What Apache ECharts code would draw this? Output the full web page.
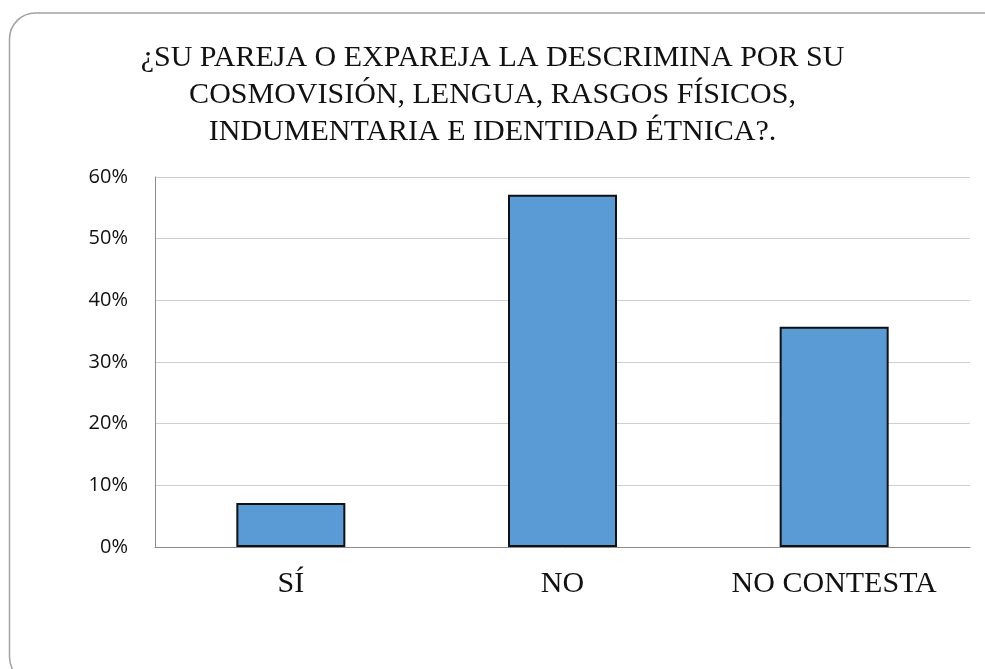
<!DOCTYPE html>
<html>
<head>
<meta charset="utf-8">
<script src="https://cdn.jsdelivr.net/npm/echarts@6/dist/echarts.min.js"></script>
<style>
  html, body { margin: 0; padding: 0; background: #fff; }
  #chart { width: 985px; height: 669px; }
</style>
</head>
<body>
<div id="chart"></div>
<script>
// data
const categories = ['SÍ', 'NO', 'NO CONTESTA'];
const values = [7.14, 57.14, 35.71];
const yTicks = { min: 0, max: 60, interval: 10 };
const titleText = '¿SU PAREJA O EXPAREJA LA DESCRIMINA POR SU\nCOSMOVISIÓN, LENGUA, RASGOS FÍSICOS,\nINDUMENTARIA E IDENTIDAD ÉTNICA?.';

const chart = echarts.init(document.getElementById('chart'));

chart.setOption({
  animation: false,
  backgroundColor: '#fff',
  title: {
    text: titleText,
    left: 'center',
    top: 35,
    textStyle: {
      fontFamily: '"Liberation Serif", serif',
      fontWeight: 'normal',
      fontSize: 30,
      lineHeight: 37,
      color: '#111'
    }
  },
  // rounded slide frame
  graphic: [{
    type: 'rect',
    shape: { x: 9.5, y: 13, width: 1010, height: 670, r: 26 },
    style: { fill: 'none', stroke: '#a3a3a3', lineWidth: 1.5 },
    silent: true
  }],
  grid: { left: 155, right: 15, top: 177, bottom: 122 },
  xAxis: {
    type: 'category',
    data: categories,
    axisLine: { lineStyle: { color: '#8c8c8c', width: 1 } },
    axisTick: { show: false },
    axisLabel: {
      interval: 0,
      hideOverlap: false,
      margin: 22,
      fontFamily: '"Liberation Serif", serif',
      fontSize: 30,
      color: '#111'
    }
  },
  yAxis: {
    type: 'value',
    min: yTicks.min,
    max: yTicks.max,
    interval: yTicks.interval,
    axisLine: { show: true, lineStyle: { color: '#8c8c8c', width: 1 } },
    axisTick: { show: false },
    axisLabel: {
      formatter: '{value}%',
      margin: 27,
      fontFamily: '"Open Sans", sans-serif',
      fontSize: 20,
      color: '#111'
    },
    splitLine: { lineStyle: { color: '#cfcfcf', width: 1 } }
  },
  series: [{
    type: 'bar',
    data: values,
    barWidth: 109,
    itemStyle: { color: '#5b9bd5', borderColor: '#111', borderWidth: 2 }
  }]
});
</script>
</body>
</html>
